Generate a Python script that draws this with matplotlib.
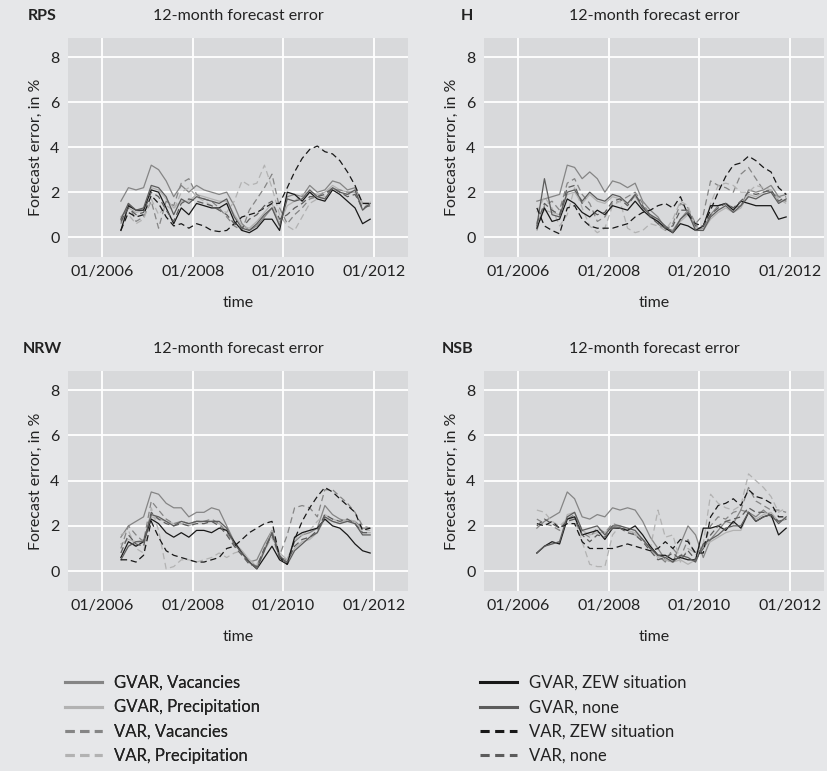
import matplotlib
matplotlib.use("Agg")
import matplotlib.pyplot as plt
import matplotlib.dates as mdates
from matplotlib import font_manager
import pandas as pd
from matplotlib.lines import Line2D

# ---------------- data (bimonthly, 2006-06 ... 2011-12) ----------------
dates = pd.date_range("2006-06-01", "2011-12-01", freq="2MS")

panels = ["RPS", "H", "NRW", "NSB"]
series_names = ["GVAR, Vacancies", "GVAR, Precipitation", "VAR, Vacancies", "VAR, Precipitation",
                "GVAR, ZEW situation", "GVAR, none", "VAR, ZEW situation", "VAR, none"]

# RPS
RPS_GV = [1.6, 2.2, 2.1, 2.2, 3.2, 3.0, 2.5, 1.8, 2.3, 2.0, 2.3, 2.1, 2.0, 1.9, 2.0, 1.4, 0.6, 0.3, 0.5, 0.9, 1.3, 0.6, 1.8, 1.9, 1.8, 2.3, 2.0, 2.1, 2.5, 2.4, 2.1, 2.2, 1.5, 1.5]
RPS_GP = [0.9, 1.3, 1.1, 1.2, 2.2, 2.1, 1.7, 1.3, 1.6, 1.6, 1.9, 1.8, 1.7, 1.6, 1.6, 1.0, 0.5, 0.4, 0.7, 1.1, 1.5, 0.6, 1.4, 1.6, 1.9, 2.0, 1.9, 2.0, 2.3, 2.1, 2.0, 2.0, 1.5, 1.5]
RPS_VV = [0.6, 1.5, 0.7, 0.9, 1.6, 0.4, 1.6, 1.4, 2.4, 2.6, 1.9, 1.7, 1.6, 1.3, 0.9, 0.5, 0.3, 1.2, 1.7, 2.2, 2.8, 1.3, 0.6, 1.0, 1.3, 1.7, 1.8, 2.0, 2.1, 2.1, 2.0, 2.0, 1.2, 1.6]
RPS_VP = [0.9, 1.0, 0.6, 0.8, 1.7, 1.0, 1.4, 1.2, 2.0, 2.2, 1.8, 1.6, 1.4, 1.2, 1.1, 1.6, 2.5, 2.3, 2.4, 3.2, 2.2, 1.0, 0.5, 0.3, 0.9, 1.5, 1.7, 1.8, 2.2, 2.0, 1.9, 2.0, 1.4, 1.5]
RPS_GZ = [0.3, 1.4, 1.2, 1.2, 2.1, 2.0, 1.3, 0.6, 1.3, 1.0, 1.5, 1.4, 1.3, 1.3, 1.5, 0.7, 0.3, 0.2, 0.4, 0.8, 0.8, 0.3, 2.0, 1.9, 1.6, 2.0, 1.7, 1.6, 2.1, 1.9, 1.6, 1.3, 0.6, 0.8]
RPS_GN = [0.8, 1.5, 1.2, 1.3, 2.3, 2.2, 1.8, 1.0, 1.7, 1.5, 1.8, 1.7, 1.6, 1.5, 1.7, 0.9, 0.4, 0.3, 0.6, 1.0, 1.3, 0.5, 1.7, 1.6, 1.7, 2.1, 1.8, 1.7, 2.2, 2.0, 1.9, 2.1, 1.2, 1.5]
RPS_VZ = [0.3, 1.1, 0.9, 1.0, 1.85, 1.5, 0.9, 0.5, 0.6, 0.4, 0.6, 0.5, 0.3, 0.25, 0.3, 0.6, 0.9, 1.0, 1.1, 1.3, 1.5, 1.5, 2.2, 2.9, 3.5, 3.9, 4.05, 3.8, 3.7, 3.4, 2.9, 2.3, 1.5, 1.5]
RPS_VN = [0.7, 1.3, 1.0, 1.1, 2.0, 1.8, 1.2, 0.7, 1.5, 1.7, 1.6, 1.5, 1.4, 1.2, 1.0, 0.6, 0.4, 0.8, 1.0, 1.4, 1.6, 0.8, 1.0, 1.3, 1.5, 1.8, 1.8, 1.9, 2.2, 2.0, 1.8, 1.9, 1.3, 1.4]

# H
H_GV = [1.6, 1.7, 1.8, 1.9, 3.2, 3.1, 2.6, 2.9, 2.6, 2.0, 2.5, 2.4, 2.2, 2.4, 1.6, 1.2, 0.9, 0.4, 0.3, 0.8, 1.2, 0.4, 0.4, 1.0, 1.4, 1.5, 1.3, 1.4, 2.1, 2.0, 2.1, 2.3, 1.8, 1.9]
H_GP = [0.7, 1.2, 1.1, 1.0, 1.9, 2.0, 1.5, 1.9, 1.6, 1.5, 1.8, 1.7, 1.5, 1.8, 1.3, 1.0, 0.7, 0.4, 0.2, 0.7, 1.0, 0.4, 0.3, 0.8, 1.1, 1.3, 1.1, 1.3, 1.9, 1.8, 2.0, 2.1, 1.6, 1.6]
H_VV = [0.3, 1.4, 1.6, 1.2, 2.4, 2.6, 1.9, 1.5, 0.7, 0.9, 1.5, 1.6, 1.8, 2.0, 1.5, 1.0, 0.6, 0.3, 0.6, 1.5, 1.3, 0.6, 1.0, 2.5, 2.3, 2.2, 2.0, 2.8, 3.1, 2.6, 2.1, 2.0, 1.8, 1.6]
H_VP = [1.1, 1.8, 1.3, 0.5, 1.0, 2.2, 1.3, 0.5, 0.2, 0.4, 1.4, 1.6, 0.4, 0.2, 0.3, 0.6, 0.5, 0.3, 0.8, 1.6, 1.4, 0.4, 0.4, 1.5, 2.3, 2.4, 2.3, 2.0, 2.0, 2.3, 2.2, 2.1, 1.7, 1.5]
H_GZ = [0.4, 1.3, 0.7, 0.8, 1.7, 1.5, 1.1, 0.9, 1.2, 1.0, 1.4, 1.3, 1.2, 1.6, 1.2, 0.9, 0.7, 0.4, 0.2, 0.6, 0.5, 0.3, 0.5, 1.4, 1.4, 1.5, 1.2, 1.6, 1.5, 1.4, 1.4, 1.4, 0.8, 0.9]
H_GN = [0.5, 2.6, 1.0, 0.9, 2.0, 2.1, 1.6, 2.0, 1.7, 1.6, 1.9, 1.8, 1.5, 1.9, 1.3, 1.0, 0.8, 0.5, 0.2, 0.8, 1.1, 0.3, 0.3, 0.9, 1.2, 1.4, 1.1, 1.4, 1.8, 1.7, 1.9, 2.0, 1.5, 1.7]
H_VZ = [1.3, 0.5, 0.3, 0.15, 1.3, 1.4, 0.8, 0.5, 0.4, 0.4, 0.4, 0.5, 0.6, 0.9, 1.1, 1.2, 1.4, 1.5, 1.3, 1.8, 1.0, 0.6, 0.5, 1.2, 2.0, 2.7, 3.2, 3.3, 3.6, 3.4, 3.1, 2.9, 2.2, 1.9]
H_VN = [0.6, 1.5, 1.2, 1.0, 2.2, 2.3, 1.5, 1.2, 1.0, 1.1, 1.6, 1.7, 1.4, 1.9, 1.4, 0.9, 0.6, 0.4, 0.5, 1.2, 1.2, 0.5, 0.5, 1.0, 1.3, 1.5, 1.3, 1.6, 2.0, 1.9, 2.0, 2.1, 1.6, 1.8]

# NRW
NRW_GV = [1.5, 2.0, 2.2, 2.4, 3.5, 3.4, 3.0, 2.8, 2.8, 2.4, 2.6, 2.6, 2.8, 2.7, 2.0, 1.3, 0.8, 0.4, 0.5, 1.2, 1.8, 0.6, 0.5, 1.3, 1.6, 1.7, 1.9, 2.9, 2.5, 2.3, 2.2, 2.2, 1.9, 1.9]
NRW_GP = [1.2, 1.4, 1.3, 1.4, 2.4, 2.3, 2.2, 2.1, 2.1, 2.0, 2.2, 2.1, 2.2, 2.1, 1.8, 1.3, 0.9, 0.5, 0.2, 1.0, 1.8, 0.8, 0.5, 1.0, 1.3, 1.4, 1.7, 2.3, 2.2, 2.1, 2.3, 2.1, 1.7, 1.7]
NRW_VV = [1.0, 2.0, 1.6, 1.3, 3.1, 2.7, 2.3, 2.1, 2.2, 2.1, 2.2, 2.2, 2.3, 2.1, 1.7, 1.2, 0.8, 0.4, 0.2, 1.0, 1.7, 0.7, 1.6, 2.8, 2.9, 2.8, 2.4, 3.6, 3.6, 3.3, 3.0, 2.6, 2.0, 1.9]
NRW_VP = [1.6, 1.8, 1.0, 0.8, 2.8, 1.8, 0.1, 0.2, 0.5, 0.5, 0.4, 0.5, 0.6, 0.8, 0.6, 0.8, 0.9, 0.5, 0.3, 0.9, 1.5, 0.6, 0.5, 1.4, 1.6, 1.8, 2.2, 2.5, 2.3, 2.2, 2.3, 2.2, 1.8, 1.8]
NRW_GZ = [0.6, 1.3, 1.1, 1.3, 2.3, 2.1, 1.7, 1.5, 1.7, 1.5, 1.8, 1.8, 1.7, 1.9, 1.8, 1.3, 0.8, 0.4, 0.1, 0.6, 1.1, 0.5, 0.3, 1.5, 1.7, 1.8, 1.9, 2.3, 2.0, 1.9, 1.6, 1.2, 0.9, 0.8]
NRW_GN = [0.5, 1.1, 1.3, 1.3, 2.5, 2.4, 2.2, 2.0, 2.2, 2.1, 2.2, 2.2, 2.2, 2.2, 1.9, 1.2, 0.8, 0.4, 0.1, 0.9, 1.7, 0.7, 0.3, 0.9, 1.2, 1.5, 1.7, 2.4, 2.2, 2.1, 2.2, 2.1, 1.6, 1.6]
NRW_VZ = [0.5, 0.5, 0.4, 0.7, 2.2, 1.5, 0.9, 0.7, 0.6, 0.5, 0.4, 0.4, 0.5, 0.6, 1.0, 1.1, 1.4, 1.7, 1.9, 2.1, 2.2, 0.6, 0.3, 1.4, 2.2, 2.8, 3.3, 3.7, 3.5, 3.2, 2.9, 2.6, 1.8, 1.9]
NRW_VN = [0.8, 1.6, 1.2, 1.1, 2.6, 2.3, 2.1, 2.0, 2.1, 2.0, 2.1, 2.1, 2.2, 2.0, 1.6, 1.1, 0.7, 0.3, 0.2, 1.0, 1.6, 0.6, 0.4, 1.1, 1.4, 1.5, 1.8, 2.5, 2.3, 2.2, 2.3, 2.1, 1.7, 1.7]

# NSB
NSB_GV = [1.9, 2.2, 2.4, 2.6, 3.5, 3.2, 2.4, 2.3, 2.5, 2.4, 2.8, 2.7, 2.8, 2.7, 2.2, 1.5, 1.0, 0.5, 0.4, 1.2, 2.0, 1.6, 0.6, 1.4, 1.8, 2.2, 2.1, 2.7, 2.6, 2.4, 2.7, 2.4, 2.2, 2.3]
NSB_GP = [0.8, 1.1, 1.2, 1.3, 2.5, 2.6, 1.8, 1.6, 1.7, 1.7, 2.0, 1.9, 1.8, 1.7, 1.4, 1.0, 0.6, 0.5, 0.4, 0.5, 0.3, 0.5, 1.1, 1.3, 1.5, 1.7, 1.8, 1.8, 2.6, 2.3, 2.5, 2.6, 2.2, 2.3]
NSB_VV = [2.3, 2.1, 2.0, 1.8, 2.3, 2.5, 1.7, 1.5, 1.9, 1.7, 2.1, 2.0, 1.8, 1.6, 1.4, 1.1, 0.7, 0.4, 1.0, 0.6, 1.4, 0.7, 1.1, 2.0, 2.4, 2.3, 2.6, 2.7, 3.7, 3.1, 2.9, 2.7, 2.7, 2.6]
NSB_VP = [2.7, 2.6, 2.2, 2.0, 2.3, 2.3, 1.3, 0.3, 0.2, 0.2, 1.6, 2.0, 1.8, 1.6, 1.4, 1.0, 2.7, 1.5, 1.6, 0.4, 1.0, 0.8, 1.2, 3.4, 3.0, 2.8, 2.7, 2.9, 4.3, 4.0, 3.7, 3.3, 2.6, 2.8]
NSB_GZ = [0.8, 1.1, 1.3, 1.2, 2.3, 2.4, 1.6, 1.7, 1.8, 1.4, 1.9, 1.9, 1.8, 2.0, 1.6, 1.1, 0.7, 0.7, 0.5, 0.6, 0.5, 0.5, 1.9, 1.9, 2.0, 1.8, 2.2, 1.9, 2.6, 2.2, 2.4, 2.5, 1.6, 1.9]
NSB_GN = [0.8, 1.1, 1.2, 1.3, 2.4, 2.6, 1.8, 1.9, 2.0, 1.6, 2.0, 2.0, 1.9, 1.8, 1.4, 1.0, 0.7, 0.6, 0.4, 0.7, 0.6, 0.4, 1.2, 1.4, 1.6, 1.9, 2.0, 2.0, 2.6, 2.2, 2.4, 2.5, 2.1, 2.4]
NSB_VZ = [2.1, 2.0, 2.2, 1.9, 2.1, 2.1, 1.3, 1.0, 1.0, 1.0, 1.0, 1.1, 1.2, 1.1, 1.0, 0.9, 1.0, 1.3, 1.0, 1.4, 1.3, 0.8, 0.8, 2.4, 2.9, 3.0, 3.2, 2.9, 3.6, 3.3, 3.2, 3.0, 2.4, 2.4]
NSB_VN = [2.0, 2.3, 2.1, 1.9, 2.2, 2.3, 1.6, 1.3, 1.6, 1.5, 1.9, 1.9, 1.7, 1.6, 1.3, 0.9, 0.5, 0.6, 0.8, 0.5, 0.9, 0.5, 1.0, 1.6, 2.0, 2.2, 2.3, 2.4, 2.8, 2.6, 2.6, 2.5, 2.2, 2.3]

panel_data = {
    "RPS": [RPS_GV, RPS_GP, RPS_VV, RPS_VP, RPS_GZ, RPS_GN, RPS_VZ, RPS_VN],
    "H": [H_GV, H_GP, H_VV, H_VP, H_GZ, H_GN, H_VZ, H_VN],
    "NRW": [NRW_GV, NRW_GP, NRW_VV, NRW_VP, NRW_GZ, NRW_GN, NRW_VZ, NRW_VN],
    "NSB": [NSB_GV, NSB_GP, NSB_VV, NSB_VP, NSB_GZ, NSB_GN, NSB_VZ, NSB_VN],
}

yticks = [0, 2, 4, 6, 8]
xtick_years = [2006, 2008, 2010, 2012]

# ---------------- styles ----------------
colors = ["#858585", "#b2b2b2", "#858585", "#b2b2b2", "#181818", "#5c5c5c", "#181818", "#5c5c5c"]
styles = ["-", "-", "--", "--", "-", "-", "--", "--"]

avail = {f.name for f in font_manager.fontManager.ttflist}
main_font = "Lato" if "Lato" in avail else "DejaVu Sans"
plt.rcParams["font.family"] = [main_font, "DejaVu Sans"]

fig_bg = "#e6e7e9"
ax_bg = "#d8d9db"
txt = "#222222"

fig = plt.figure(figsize=(8.27, 7.71), dpi=100, facecolor=fig_bg)
W, H = 827.0, 771.0
boxes = {
    "RPS": (68, 38, 408, 257),
    "H": (484, 38, 824, 257),
    "NRW": (68, 371, 408, 591),
    "NSB": (484, 371, 824, 591),
}
label_x = {"RPS": 28, "H": 461, "NRW": 23, "NSB": 442}

xmin = pd.Timestamp("2005-04-01")
xmax = pd.Timestamp("2012-10-01")

for p in panels:
    x0, y0, x1, y1 = boxes[p]
    ax = fig.add_axes([x0 / W, 1 - y1 / H, (x1 - x0) / W, (y1 - y0) / H])
    ax.set_facecolor(ax_bg)
    for s in ax.spines.values():
        s.set_visible(False)
    for vals, c, ls in zip(panel_data[p], colors, styles):
        if ls == "--":
            ax.plot(dates, vals, color=c, linewidth=0.9, dashes=(5, 3))
        else:
            ax.plot(dates, vals, color=c, linewidth=0.9, linestyle="-")
    ax.set_xlim(xmin, xmax)
    ax.set_ylim(-0.88, 8.85)
    ax.set_yticks(yticks)
    ax.set_xticks([pd.Timestamp(f"{y}-01-01") for y in xtick_years])
    ax.xaxis.set_major_formatter(mdates.DateFormatter("%m/%Y"))
    ax.grid(True, color="white", linewidth=1.3)
    ax.set_axisbelow(True)
    ax.tick_params(length=0, labelsize=11.5, colors=txt, pad=6)
    ax.set_ylabel("Forecast error, in %", fontsize=11.5, color=txt, labelpad=5)
    ax.set_xlabel("time", fontsize=11.5, color=txt, labelpad=12)
    fig.text(label_x[p] / W, 1 - (y0 - 22) / H, p, fontsize=11.5, fontweight="bold",
             color=txt, ha="left", va="center")
    fig.text(((x0 + x1) / 2) / W, 1 - (y0 - 22) / H, "12-month forecast error", fontsize=11.5,
             color=txt, ha="center", va="center")

# ---------------- legend ----------------
handles = []
for c, ls in zip(colors, styles):
    if ls == "--":
        handles.append(Line2D([], [], color=c, linewidth=2.2, dashes=(3.0, 1.8)))
    else:
        handles.append(Line2D([], [], color=c, linewidth=2.2))

common = dict(loc="upper left", frameon=False, prop={"family": main_font, "size": 12},
              handlelength=2.2, handletextpad=0.75, labelspacing=0.5, labelcolor=txt,
              borderaxespad=0, borderpad=0)
leg1 = fig.legend(handles[:4], series_names[:4], bbox_to_anchor=(65 / W, 1 - 675 / H), **common)
leg2 = fig.legend(handles[4:], series_names[4:], bbox_to_anchor=(480 / W, 1 - 675 / H), **common)
fig.add_artist(leg1)

fig.savefig("out.png", dpi=100, facecolor=fig_bg)
